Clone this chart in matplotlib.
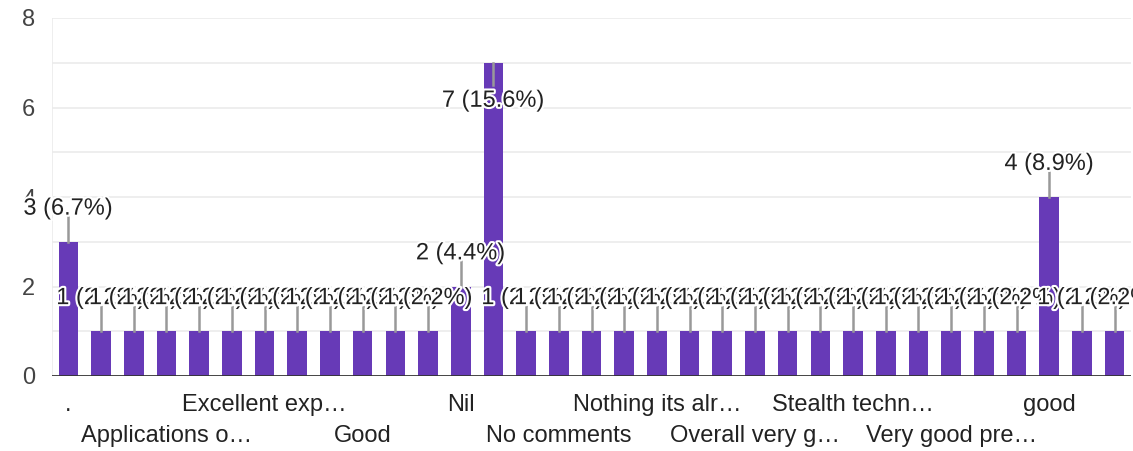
import matplotlib
matplotlib.use("Agg")
import matplotlib.pyplot as plt
import matplotlib.patheffects as pe

# ---- data ----
categories = [
    ".", "A lot", "Amazing", "Applications o…", "Best", "Effective",
    "Excellent exp…", "Fine", "Gained knowledge", "Good", "Good session",
    "Helpful", "Nil", "No", "No comment", "No comments", "Nope", "Nothing",
    "Nothing its alr…", "Ok", "Overall", "Overall very g…", "Satisfied",
    "Session was good", "Stealth techn…", "Thank you", "Useful",
    "Very good pre…", "Very informative", "Well explained", "good", "nice",
    "very good",
]
counts = [3, 1, 1, 1, 1, 1, 1, 1, 1, 1, 1, 1, 2, 7, 1, 1, 1, 1, 1, 1, 1, 1,
          1, 1, 1, 1, 1, 1, 1, 1, 4, 1, 1]
y_ticks = [0, 2, 4, 6, 8]
label_every = 3

total = sum(counts)
bar_color = "#673ab7"
text_color = "#222222"
FS = 17

plt.rcParams["font.family"] = ["Liberation Sans", "DejaVu Sans"]

fig = plt.figure(figsize=(11.33, 4.51), dpi=100)
ax = fig.add_axes([52 / 1133, 75 / 451, 1079 / 1133, 358 / 451])

x = list(range(len(categories)))
ax.bar(x, counts, width=0.6, color=bar_color, zorder=2)

ymax = 8
ax.set_xlim(-0.5, len(categories) - 0.5)
ax.set_ylim(0, ymax)

# gridlines every unit
for g in range(1, ymax + 1):
    ax.axhline(g, color="#ebebeb", lw=1.2, zorder=0)
ax.axhline(0, color="#333333", lw=2, zorder=3)
ax.axvline(-0.5, color="#ebebeb", lw=1.2, zorder=0)

ax.set_yticks(y_ticks)
ax.set_yticklabels([str(t) for t in y_ticks], fontsize=FS, color="#444444")
ax.tick_params(axis="y", length=0, pad=12)
ax.set_xticks([])
for s in ax.spines.values():
    s.set_visible(False)

# category labels, two staggered rows
for j, i in enumerate(range(0, len(categories), label_every)):
    off = -29 if j % 2 == 0 else -60
    ax.annotate(categories[i], xy=(i, 0), xycoords=("data", "axes fraction"),
                xytext=(0, off), textcoords="offset pixels",
                ha="center", va="center", fontsize=FS, color="#222222")

# value labels with leader lines
halo = [pe.withStroke(linewidth=3, foreground="white")]
for i, v in enumerate(counts):
    lab = f"{v} ({v / total * 100:.1f}%)"
    if v + 1.0 >= ymax:
        ty = v - 0.85
        ax.plot([i, i], [v, v - 0.5], color="#999999", lw=1.8, zorder=4)
    else:
        ty = v + 0.74
        ax.plot([i, i], [v, v + 0.56], color="#999999", lw=1.8, zorder=4)
    ax.text(i, ty, lab, ha="center", va="center", fontsize=FS,
            color=text_color, zorder=5 + i, path_effects=halo, clip_on=False)

fig.savefig("out.png", dpi=100, facecolor="white")
